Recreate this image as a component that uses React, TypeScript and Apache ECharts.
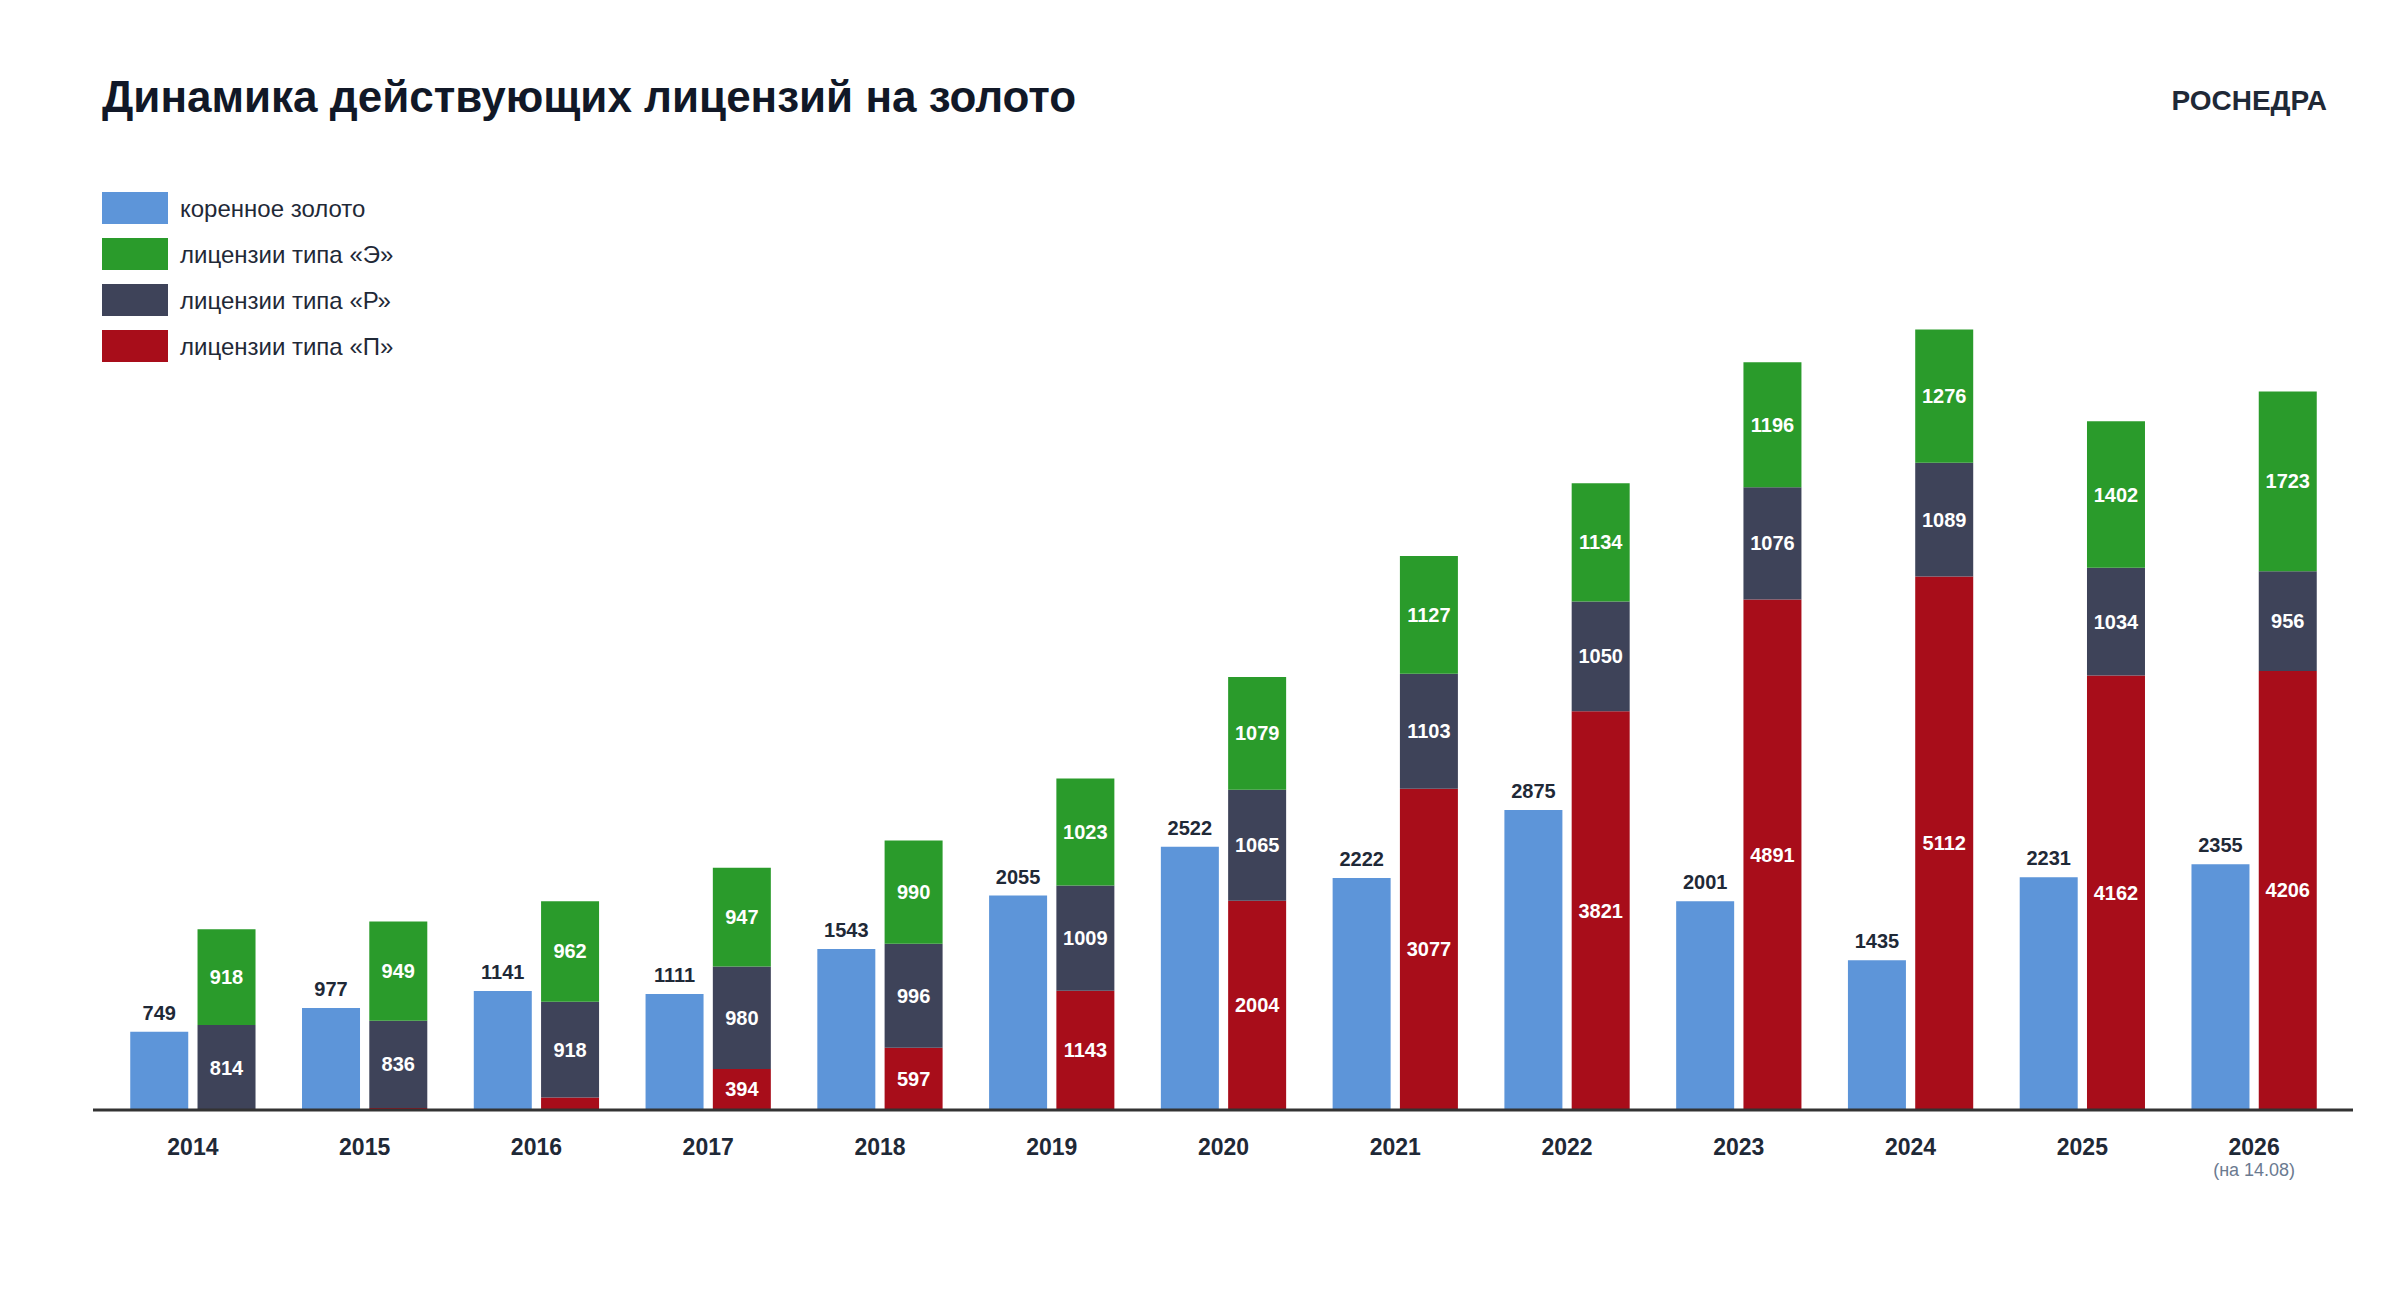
import React, { useEffect, useRef } from "react";
import * as echarts from "echarts";

const years = ["2014", "2015", "2016", "2017", "2018", "2019", "2020", "2021", "2022", "2023", "2024", "2025", "2026"];
const lastNote = "(на 14.08)";
const rootGold = [749, 977, 1141, 1111, 1543, 2055, 2522, 2222, 2875, 2001, 1435, 2231, 2355];
const typeP = [0, 20, 120, 394, 597, 1143, 2004, 3077, 3821, 4891, 5112, 4162, 4206];
const typeR = [814, 836, 918, 980, 996, 1009, 1065, 1103, 1050, 1076, 1089, 1034, 956];
const typeE = [918, 949, 962, 947, 990, 1023, 1079, 1127, 1134, 1196, 1276, 1402, 1723];

const names = ["коренное золото", "лицензии типа «Э»", "лицензии типа «Р»", "лицензии типа «П»"];
const colors = { blue: "#5D95D9", green: "#2A9B2B", dark: "#3E4359", red: "#A80D1A" };
const FONT = "'Liberation Sans', Arial, sans-serif";

export default function App() {
  const ref = useRef<HTMLDivElement>(null);
  useEffect(() => {
    if (!ref.current) return;
    const chart = echarts.init(ref.current, null, { renderer: "svg" });
    const inLabel = {
      show: true,
      position: "inside",
      color: "#ffffff",
      fontWeight: "bold",
      fontSize: 20,
      fontFamily: FONT,
    };
    const stackItems = (arr: number[]) =>
      arr.map((v) => (v < 300 ? { value: v, label: { show: false } } : v));
    const common = { type: "bar", barWidth: 58, barGap: "16%" };
    chart.setOption({
      animation: false,
      backgroundColor: "#ffffff",
      textStyle: { fontFamily: FONT },
      title: [
        {
          text: "Динамика действующих лицензий на золото",
          left: 97,
          top: 69,
          textStyle: { fontSize: 44, fontWeight: "bold", color: "#111827", fontFamily: FONT },
        },
        {
          text: "РОСНЕДРА",
          right: 68,
          top: 81,
          textStyle: { fontSize: 28, fontWeight: "bold", color: "#1F2937", fontFamily: FONT },
        },
      ],
      legend: {
        orient: "vertical",
        left: 97,
        top: 187,
        itemWidth: 66,
        itemHeight: 32,
        itemGap: 14,
        icon: "rect",
        data: names,
        textStyle: { fontSize: 24, color: "#1F2937", fontFamily: FONT, padding: [0, 0, 0, 7] },
      },
      grid: { left: 107, right: 60, top: 275, bottom: 190 },
      xAxis: {
        type: "category",
        data: years,
        axisLine: { show: false },
        axisTick: { show: false },
        axisLabel: {
          margin: 22,
          formatter: (v: string, i: number) =>
            i === years.length - 1 ? `{y|${v}}\n{s|${lastNote}}` : `{y|${v}}`,
          rich: {
            y: { fontSize: 23, fontWeight: "bold", color: "#1F2937", fontFamily: FONT, lineHeight: 30 },
            s: { fontSize: 18, color: "#6B7A90", fontFamily: FONT, lineHeight: 16 },
          },
        },
      },
      yAxis: {
        type: "value",
        min: 0,
        max: 8000,
        show: false,
        splitLine: { show: false },
      },
      graphic: [
        {
          type: "line",
          shape: { x1: 93, y1: 1110, x2: 2353, y2: 1110 },
          style: { stroke: "#333333", lineWidth: 3 },
          z: 10,
        },
      ],
      series: [
        {
          ...common,
          name: names[0],
          data: rootGold,
          itemStyle: { color: colors.blue },
          label: {
            show: true,
            position: "top",
            distance: 9,
            color: "#1F2937",
            fontWeight: "bold",
            fontSize: 20,
            fontFamily: FONT,
          },
        },
        {
          ...common,
          name: names[3],
          stack: "lic",
          data: stackItems(typeP),
          itemStyle: { color: colors.red },
          label: inLabel,
        },
        {
          ...common,
          name: names[2],
          stack: "lic",
          data: stackItems(typeR),
          itemStyle: { color: colors.dark },
          label: inLabel,
        },
        {
          ...common,
          name: names[1],
          stack: "lic",
          data: stackItems(typeE),
          itemStyle: { color: colors.green },
          label: inLabel,
        },
      ],
    });
    return () => chart.dispose();
  }, []);
  return (
    <div
      ref={ref}
      style={{ position: "fixed", left: 0, top: 0, width: 2400, height: 1300, background: "#fff" }}
    />
  );
}
